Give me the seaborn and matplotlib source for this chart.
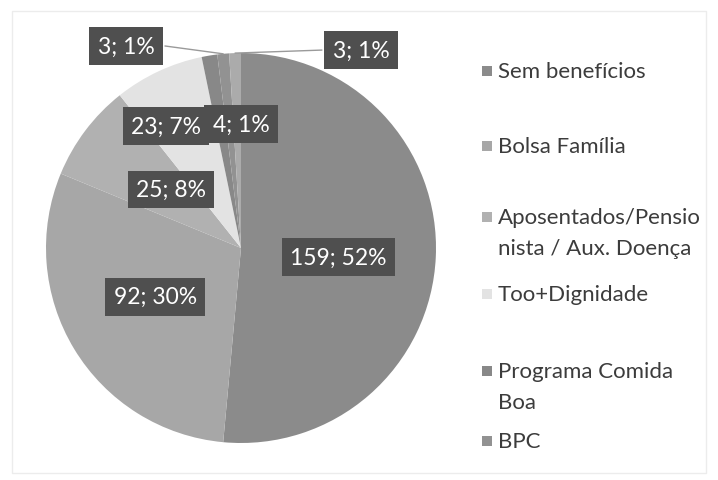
import matplotlib
matplotlib.use("Agg")
import matplotlib.pyplot as plt
from matplotlib.patches import Rectangle
import seaborn as sns
import numpy as np

# --- data ---
categories = ["Sem benefícios", "Bolsa Família", "Aposentados/Pensionista / Aux. Doença",
              "Too+Dignidade", "Programa Comida Boa", "BPC", "Outros"]
counts = [159, 92, 25, 23, 4, 3, 3]
percents = [52, 30, 8, 7, 1, 1, 1]
legend_labels = ["Sem benefícios", "Bolsa Família", "Aposentados/Pensio\nnista / Aux. Doença",
                 "Too+Dignidade", "Programa Comida\nBoa", "BPC"]

sns.set_theme(style="white")
plt.rcParams["font.family"] = ["Lato", "DejaVu Sans"]

W, H = 718, 481
fig = plt.figure(figsize=(W / 100, H / 100), dpi=100)
fig.patch.set_facecolor("white")

# pie axes: centre at (241, 249) px, radius 195 px
R_PX = 195
CX, CY = 241, 249
S = 230
ax = fig.add_axes([(CX - S) / W, (H - CY - S) / H, 2 * S / W, 2 * S / H])

colors = ["#8b8b8b", "#a7a7a7", "#b1b1b1", "#e3e3e3", "#888888", "#929292", "#ababab"]
wedges, _ = ax.pie(counts, colors=colors, startangle=90, counterclock=False,
                   radius=1.0, wedgeprops=dict(linewidth=0))

lim = S / R_PX
ax.set_xlim(-lim, lim)
ax.set_ylim(-lim, lim)
ax.set_aspect("equal")
ax.axis("off")

# label positions (pie units) for each slice
label_pos = [(0.50, -0.046), (-0.44, -0.25), (-0.36, 0.30), (-0.385, 0.626),
             (0.0, 0.636), (-0.59, 1.036), (0.615, 1.015)]
leader = [False, False, False, False, False, True, True]

box = dict(boxstyle="square,pad=0.36", facecolor="#4f4f4f", edgecolor="none")
for i, (w, c, p) in enumerate(zip(wedges, counts, percents)):
    txt = f"{c}; {p}%"
    x, y = label_pos[i]
    if leader[i]:
        ang = np.deg2rad((w.theta1 + w.theta2) / 2)
        tip = (np.cos(ang) * 1.0, np.sin(ang) * 1.0)
        edge_x = x + (0.2 if x < 0 else -0.2)
        ax.plot([edge_x, tip[0]], [y, tip[1]], color="#9a9a9a", lw=1.0, zorder=2)
    ax.text(x, y, txt, ha="center", va="center", fontsize=16.5, color="white",
            bbox=box, zorder=3)

# legend drawn on the figure
leg_y = [72, 147, 218, 295, 372, 442]
line_step = 31
for lab, col, yy in zip(legend_labels, colors, leg_y):
    fig.patches.append(Rectangle((482 / W, 1 - (yy + 5) / H), 10 / W, 10 / H,
                                 transform=fig.transFigure, facecolor=col,
                                 edgecolor="none"))
    for k, line in enumerate(lab.split("\n")):
        fig.text(498 / W, 1 - (yy + k * line_step) / H, line, ha="left", va="center",
                 fontsize=16, color="#3c3c3c")

# faint chart border
fig.patches.append(Rectangle((12 / W, 1 - 474 / H), 694 / W, 462 / H,
                             transform=fig.transFigure, facecolor="none",
                             edgecolor="#ececec", lw=1.0))

fig.savefig("out.png", dpi=100, facecolor="white")
